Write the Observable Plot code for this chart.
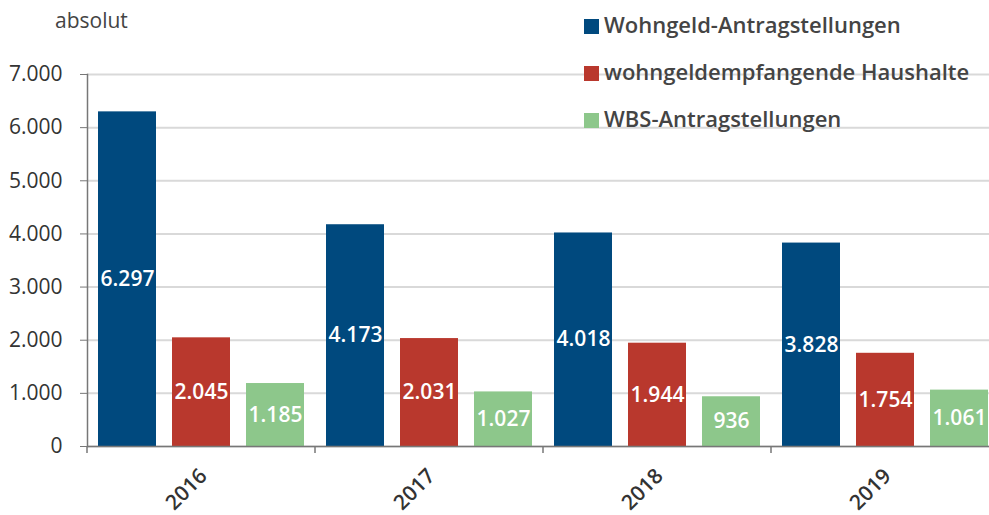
<!DOCTYPE html>
<html><head><meta charset="utf-8">
<script src="https://cdn.jsdelivr.net/npm/d3@7"></script>
<script src="https://cdn.jsdelivr.net/npm/@observablehq/plot@0.6"></script>
<style>
body{margin:0;background:#fff;font-family:"Open Sans",sans-serif;}
#wrap{position:relative;width:989px;height:515px;overflow:hidden;background:#fff;}
#chart svg{max-width:none !important;}
#unit{position:absolute;left:55px;top:6px;font-size:21px;color:#444;}
.item{position:absolute;left:584px;white-space:nowrap;font-size:22px;font-weight:600;color:#444;line-height:28px;height:28px;}
.item span{display:inline-block;width:15px;height:15px;margin-right:5px;vertical-align:-1px;}
</style></head>
<body>
<div id="wrap"><div id="chart"></div><div id="unit">absolut</div><div id="legend"></div></div>
<script>
const years = ["2016", "2017", "2018", "2019"];
const seriesNames = ["Wohngeld-Antragstellungen", "wohngeldempfangende Haushalte", "WBS-Antragstellungen"];
const seriesColors = ["#00497e", "#b9382d", "#8dc78b"];
const wohngeldAntraege = [6297, 4173, 4018, 3828];
const empfangendeHaushalte = [2045, 2031, 1944, 1754];
const wbsAntraege = [1185, 1027, 936, 1061];
const yTicks = [0, 1000, 2000, 3000, 4000, 5000, 6000, 7000];

const fmt = d3.formatLocale({decimal: ",", thousands: ".", grouping: [3], currency: ["", " €"]}).format(",d");

const valuesBySeries = [wohngeldAntraege, empfangendeHaushalte, wbsAntraege];
const rows = [];
years.forEach((year, i) => {
  seriesNames.forEach((s, j) => rows.push({year, series: s, value: valuesBySeries[j][i]}));
});

const plot = Plot.plot({
  width: 999,
  height: 515,
  marginLeft: 87,
  marginRight: 0,
  marginTop: 74,
  marginBottom: 69,
  style: {fontFamily: "'Open Sans', sans-serif", fontSize: "21px", color: "#333", background: "transparent", maxWidth: "none"},
  fx: {domain: years, padding: 0, label: null, axis: null},
  x: {domain: seriesNames, paddingInner: 0.22, paddingOuter: 0.15, axis: null},
  y: {domain: [0, 7000], label: null},
  color: {domain: seriesNames, range: seriesColors},
  marks: [
    Plot.gridY(yTicks, {stroke: "#d9d9d9", strokeOpacity: 1, strokeWidth: 2}),
    Plot.axisY(yTicks, {tickSize: 7, tickPadding: 18, tickFormat: fmt, stroke: "#777", fill: "#333", label: null, fontSize: 21}),
    Plot.frame({anchor: "left", facetAnchor: "left", stroke: "#777", strokeWidth: 1.5}),
    Plot.barY(rows, {fx: "year", x: "series", y: "value", fill: "series"}),
    Plot.ruleY([0], {stroke: "#777", strokeWidth: 1.5}),
    Plot.text(rows, {fx: "year", x: "series", y: d => d.value / 2, text: d => fmt(d.value), fill: "white", fontWeight: 600, fontSize: 21}),
    Plot.axisFx({anchor: "bottom", tickRotate: -45, tickSize: 0, tickPadding: 24, dy: 2, dx: 2, fontWeight: 600, fill: "#333", label: null, fontSize: 21})
  ]
});

document.getElementById("chart").appendChild(plot);

// boundary ticks on the x axis, from the fx scale
const fx = plot.scale("fx");
const y = plot.scale("y");
const y0 = y.apply(0);
const svg = d3.select(plot);
years.forEach(yr => {
  const x = fx.apply(yr);
  svg.append("line").attr("x1", x).attr("x2", x).attr("y1", y0).attr("y2", y0 + 7)
    .attr("stroke", "#777").attr("stroke-width", 1.5);
});

// legend
const legend = document.getElementById("legend");
const legendTops = [10, 57, 104];
seriesNames.forEach((s, i) => {
  const div = document.createElement("div");
  div.className = "item";
  div.style.top = legendTops[i] + "px";
  div.innerHTML = `<span style="background:${seriesColors[i]}"></span>${s}`;
  legend.appendChild(div);
});
</script>
</body></html>
